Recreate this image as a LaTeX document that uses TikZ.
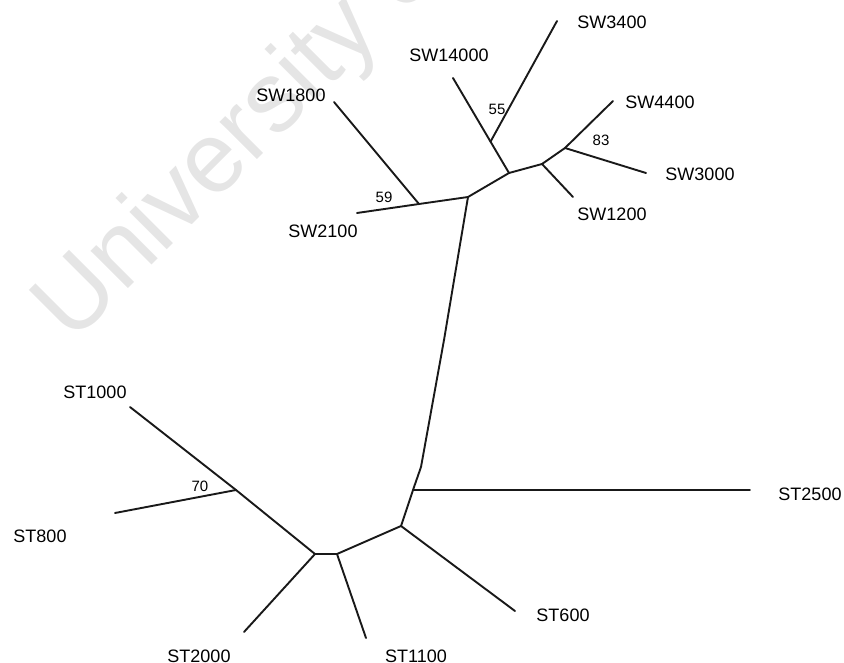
\documentclass[tikz,border=0pt]{standalone}
\usepackage{fontspec}
\setmainfont{Liberation Sans}
\usetikzlibrary{calc}
\begin{document}
\begin{tikzpicture}[x=1pt,y=-1pt,
  branch/.style={line width=1.9pt,line cap=round,line join=round,black!90},
  leaf/.style={font=\fontsize{18}{20}\selectfont,inner sep=0pt,text=black},
  boot/.style={font=\fontsize{15}{17}\selectfont,inner sep=0pt,text=black},
  wmark/.style={font=\fontsize{100}{100}\selectfont,text=black!10,inner sep=0pt,anchor=base west,rotate=45}]
\useasboundingbox (0,0) rectangle (844,663);
\begin{scope}
\clip (0,0) rectangle (844,663);
\node[wmark] (wm) at (72,345) {University of Cape Town};
\end{scope}
% internal points
\coordinate (n1) at (509,173);
\coordinate (n2) at (542,164);
\coordinate (n3) at (565,148);
\coordinate (n4) at (468,197);
\coordinate (n5) at (419,204);
\coordinate (v1) at (444,340);
\coordinate (v3) at (421,467);
\coordinate (m4) at (413,490);
\coordinate (m3) at (401,526);
\coordinate (m2) at (337,554);
\coordinate (m1) at (315,554);
\coordinate (s70) at (236,490);
% leaf ends
\coordinate (eSW3400) at (557,21);
\coordinate (eSW14000) at (453,78);
\coordinate (eSW4400) at (613,101);
\coordinate (eSW3000) at (646,173);
\coordinate (eSW1200) at (573,197);
\coordinate (eSW1800) at (334,102);
\coordinate (eSW2100) at (357,213);
\coordinate (eST2500) at (750,490);
\coordinate (eST600) at (515,611);
\coordinate (eST1100) at (366,638);
\coordinate (eST2000) at (244,632);
\coordinate (eST1000) at (130,407);
\coordinate (eST800) at (115,513);
\coordinate (j55) at ($(eSW14000)!0.67!(n1)$);
% branches
\draw[branch] (eSW14000) -- (n1);
\draw[branch] (eSW3400) -- (j55);
\draw[branch] (n1) -- (n2) -- (n3) -- (eSW4400);
\draw[branch] (n3) -- (eSW3000);
\draw[branch] (n2) -- (eSW1200);
\draw[branch] (n1) -- (n4);
\draw[branch] (n4) -- (n5) -- (eSW2100);
\draw[branch] (n5) -- (eSW1800);
\draw[branch] (n4) -- (v1) -- (v3) -- (m4) -- (m3);
\draw[branch] (m4) -- (eST2500);
\draw[branch] (m3) -- (eST600);
\draw[branch] (m3) -- (m2) -- (m1);
\draw[branch] (m2) -- (eST1100);
\draw[branch] (m1) -- (eST2000);
\draw[branch] (m1) -- (s70) -- (eST1000);
\draw[branch] (s70) -- (eST800);
% labels
\node[leaf] (lSW3400) at (612,22) {SW3400};
\node[leaf] (lSW14000) at (449,55) {SW14000};
\node[leaf] (lSW4400) at (660,102) {SW4400};
\node[leaf] (lSW3000) at (700,174) {SW3000};
\node[leaf] (lSW1200) at (612,214) {SW1200};
\node[leaf] (lSW1800) at (291,95) {SW1800};
\node[leaf] (lSW2100) at (323,231) {SW2100};
\node[leaf] (lST1000) at (95,392) {ST1000};
\node[leaf] (lST800) at (40,536) {ST800};
\node[leaf] (lST2000) at (199,656) {ST2000};
\node[leaf] (lST1100) at (416,656) {ST1100};
\node[leaf] (lST600) at (563,615) {ST600};
\node[leaf] (lST2500) at (810,494) {ST2500};
\node[boot] (b55) at (497,109) {55};
\node[boot] (b83) at (601,140) {83};
\node[boot] (b59) at (384,197) {59};
\node[boot] (b70) at (200,486) {70};
\end{tikzpicture}
\end{document}
